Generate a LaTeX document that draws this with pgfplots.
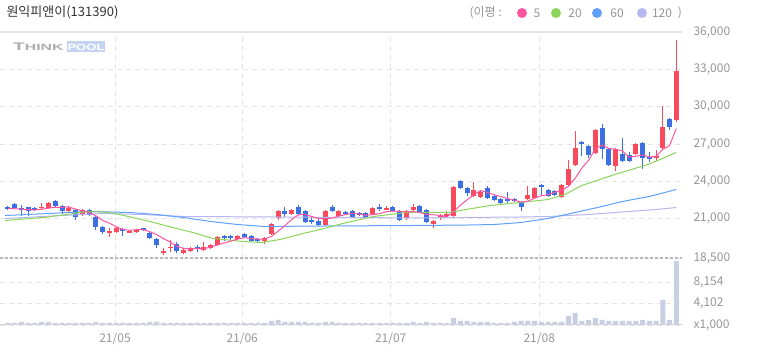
\documentclass[border=0pt]{standalone}
\usepackage{pgfplots}
\pgfplotsset{compat=1.18}
\usepackage{pgfplotstable}
\usepackage{fontspec}
\setmainfont{Noto Sans CJK KR}
\newfontfamily\wmfont{Liberation Sans}
\definecolor{cred}{RGB}{250,74,92}
\definecolor{cblue}{RGB}{60,110,228}
\definecolor{maa}{RGB}{255,85,160}
\definecolor{mab}{RGB}{140,212,90}
\definecolor{mac}{RGB}{95,160,250}
\definecolor{mad}{RGB}{182,182,240}
\definecolor{volc}{RGB}{200,206,228}
\definecolor{gridc}{RGB}{228,228,228}
\definecolor{labc}{RGB}{150,150,150}
\definecolor{poolc}{RGB}{196,212,240}
\definecolor{basec}{RGB}{205,210,222}

\pgfplotstableread{
i o h l c v
0 21970 22050 21650 21730 2
1 22210 22290 21730 21810 2
2 21810 22130 21170 21730 3
3 21890 21970 21170 21570 2
4 21810 21900 21570 21650 2
5 21810 22290 21730 21970 3
6 21810 22370 21730 22290 3
7 22450 22530 21970 22050 2
8 22050 22130 21330 21570 2
9 21570 22050 21490 21810 2
10 21650 21730 20920 21090 2
11 21250 21730 21170 21650 2
12 21650 21730 21170 21250 2
13 21090 21170 20120 20360 3
14 20360 20440 19720 19880 2
15 19800 20280 19480 20040 2
16 19880 20360 19800 20280 2
17 20200 20280 19560 20040 2
18 19880 20120 19800 20040 2
19 19880 20200 19800 20120 2
20 20200 20280 20040 20120 2
21 19800 19880 19320 19400 3
22 19320 19400 18670 18910 3
23 18270 18670 18110 18430 2
24 18600 19240 18350 18750 2
25 18990 19080 18270 18400 2
26 18270 18590 18190 18510 2
27 18430 18750 18350 18670 2
28 18710 18910 18350 18630 2
29 18510 19080 18430 18750 2
30 18670 18990 18590 18910 2
31 18910 19560 18830 19480 2
32 19560 19640 19160 19400 2
33 19560 19640 19240 19400 2
34 19320 19640 19240 19560 2
35 19720 19800 19400 19480 2
36 19560 19640 19080 19160 2
37 19320 19400 19080 19160 2
38 19160 19480 18990 19400 2
39 19720 20680 19640 20600 4
40 21010 21650 20920 21570 5
41 21570 21890 21090 21330 3
42 21330 21730 21250 21650 3
43 21890 22130 21250 21330 3
44 21570 21650 20680 20760 3
45 20920 21090 20600 20760 2
46 20840 21010 20440 20520 2
47 20520 21650 20440 21570 3
48 21890 22130 21490 21570 3
49 21170 21650 21090 21570 2
50 21490 21570 21250 21330 2
51 21570 21650 21010 21090 2
52 21410 21490 21170 21250 2
53 21410 21490 21010 21090 2
54 21330 21890 21250 21810 2
55 21890 22210 21570 21730 2
56 21730 22050 21650 21850 2
57 21970 22050 21490 21570 2
58 21570 21650 20840 20920 2
59 21010 21650 20920 21570 2
60 21650 22210 21490 21890 3
61 22050 22130 21410 21490 2
62 21650 21730 20680 20760 3
63 20600 20920 20280 20840 2
64 21090 21400 20920 21250 2
65 21170 21570 21090 21330 2
66 21170 23580 21090 23500 7
67 23980 24140 23340 23420 4
68 23420 23500 22850 23020 4
69 22850 23900 22770 23260 3
70 22770 23180 22690 23100 3
71 23420 23580 22610 22690 3
72 22850 22930 22450 22530 2
73 22610 22690 22210 22290 2
74 22610 23100 22290 22450 2
75 22610 22690 22370 22450 3
76 22370 22450 21570 21890 4
77 22610 23580 22530 22930 4
78 22690 23500 22610 23420 4
79 23660 23740 22930 23500 3
80 23260 23340 22770 22850 3
81 23180 23260 22850 22930 3
82 22770 23740 22690 23660 3
83 23660 25670 23580 24950 9
84 25270 28000 25190 26710 12
85 27120 27200 25990 26960 4
86 26800 26880 25830 26150 5
87 26310 28240 26230 28160 7
88 28320 28640 25750 26630 5
89 26630 26710 25190 25270 4
90 25190 26710 24790 26630 4
91 26230 27440 25510 25590 4
92 26150 26390 25510 25590 4
93 26230 27040 26150 26960 4
94 27040 27120 24950 25830 5
95 25910 26390 25510 25750 4
96 25910 26550 25590 26000 4
97 26710 30010 26630 28400 25
98 28970 29050 28160 28400 5
99 28890 35320 28800 32830 64
}\candles

\pgfplotstableread{
i v
0 21800
1 21790
2 21760
3 21720
4 21698
5 21746
6 21842
7 21906
8 21906
9 21938
10 21762
11 21634
12 21474
13 21232
14 20846
15 20636
16 20362
17 20120
18 20056
19 20104
20 20120
21 19944
22 19718
23 19396
24 19122
25 18778
26 18600
27 18552
28 18592
29 18592
30 18694
31 18888
32 19034
33 19188
34 19350
35 19464
36 19400
37 19352
38 19352
39 19560
40 19978
41 20412
42 20910
43 21296
44 21328
45 21166
46 21004
47 20988
48 21036
49 21198
50 21312
51 21426
52 21362
53 21266
54 21314
55 21394
56 21546
57 21610
58 21576
59 21528
60 21560
61 21488
62 21326
63 21310
64 21246
65 21134
66 21536
67 22068
68 22504
69 22906
70 23260
71 23098
72 22920
73 22774
74 22612
75 22482
76 22322
77 22402
78 22628
79 22838
80 22918
81 23126
82 23272
83 23578
84 24220
85 25042
86 25686
87 26586
88 26922
89 26634
90 26568
91 26456
92 25942
93 26008
94 26120
95 25944
96 26002
97 26564
98 26858
99 28234
}\mafive

\pgfplotstableread{
i v
-0.44 20844
5.19 21086
8.74 21327
11.7 21568
15.1 21488
18.5 21086
21.0 20764
24.4 20281
27.4 19879
30.4 19397
34.8 19156
37.6 19075
40.3 19317
43.7 19799
46.2 20121
49.6 20603
54.1 21166
59.1 21488
63.0 21488
65.5 21488
67.0 21648
71.4 22050
75.9 22292
80.0 22533
82.5 22935
85.0 23659
89.9 24543
94.8 25347
97.3 25910
99.0 26312
}\matwenty

\pgfplotstableread{
i v
-0.44 21247
6 21407
12 21568
18 21488
22 21327
26 21086
30 20764
34 20523
38 20362
46 20400
60 20442
68 20480
72 20523
76 20683
80 21006
84 21488
88 21970
91 22372
95 22774
99 23337
}\masixty

\pgfplotstableread{
i v
-0.44 21005
8 21247
14 21407
20 21327
26 21166
40 21126
60 21050
76 21126
80 21166
86 21327
92 21568
96 21729
99 21890
}\mahundred

\begin{document}
\begin{tikzpicture}
\path[use as bounding box] (0pt,0pt) rectangle (758pt,355pt);
% title
\node[anchor=west, text=black!80, font=\fontsize{13}{15}\selectfont] at (3pt,343pt) {원익피앤이(131390)};
% legend
\node[anchor=west, text=labc, font=\fontsize{12}{14}\selectfont] at (466pt,342pt) {(이평 :};
\fill[maa] (522pt,342pt) circle (5pt);
\node[text=labc, font=\fontsize{12}{14}\selectfont] at (537pt,342pt) {5};
\fill[mab] (556pt,342pt) circle (5pt);
\node[text=labc, font=\fontsize{12}{14}\selectfont] at (575pt,342pt) {20};
\fill[mac] (597pt,342pt) circle (5pt);
\node[text=labc, font=\fontsize{12}{14}\selectfont] at (617pt,342pt) {60};
\fill[mad] (642pt,342pt) circle (5pt);
\node[text=labc, font=\fontsize{12}{14}\selectfont] at (662pt,342pt) {120};
\node[text=labc, font=\fontsize{12}{14}\selectfont] at (680pt,342pt) {)};
% watermark
\node[anchor=west, inner sep=0pt, text=black!32] at (13pt,308.5pt) {\wmfont\bfseries\scalebox{1.75}[1]{\fontsize{11}{11}\selectfont T\fontsize{9}{9}\selectfont HINK}};
\fill[poolc] (67pt,302.5pt) rectangle (105pt,313.5pt);
\node[inner sep=0pt, text=white] at (86pt,308pt) {\wmfont\bfseries\scalebox{1.45}[1]{\fontsize{9}{9}\selectfont POOL}};

\begin{axis}[
  at={(0pt,97pt)}, anchor=south west, scale only axis,
  width=682pt, height=226pt,
  xmin=-1.185, xmax=99.85, ymin=17830, ymax=36000,
  axis line style={draw=none},
  xtick={15.85,34.7,56.7,78.7}, xticklabels={},
  ytick={21000,24000,27000,30000,33000,36000},
  xmajorgrids, ymajorgrids,
  grid style={gridc, dash pattern=on 5pt off 4pt, line width=0.8pt},
  major tick length=0pt,
  yticklabel pos=right,
  yticklabel style={anchor=west, text=labc, font=\fontsize{12}{14}\selectfont, xshift=8pt},
  /pgf/number format/1000 sep={,},
  /pgf/number format/assume math mode=true,
  scaled y ticks=false,
  clip=true,
]
\draw[gridc, line width=1.3pt] (rel axis cs:0,1) -- (rel axis cs:1,1);
% wicks
\addplot[draw=none, mark=none, forget plot, x filter/.expression={\thisrow{c}>=\thisrow{o} ? x : nan},
  error bars/.cd, y dir=both, y explicit, error mark=none, error bar style={draw=cred, line width=1pt}]
  table[x=i, y expr={(\thisrow{h}+\thisrow{l})/2}, y error expr={(\thisrow{h}-\thisrow{l})/2}] {\candles};
\addplot[draw=none, mark=none, forget plot, x filter/.expression={\thisrow{c}<\thisrow{o} ? x : nan},
  error bars/.cd, y dir=both, y explicit, error mark=none, error bar style={draw=cblue, line width=1pt}]
  table[x=i, y expr={(\thisrow{h}+\thisrow{l})/2}, y error expr={(\thisrow{h}-\thisrow{l})/2}] {\candles};
% bodies
\addplot[draw=none, mark=none, forget plot, x filter/.expression={\thisrow{c}>=\thisrow{o} ? x : nan},
  error bars/.cd, y dir=both, y explicit, error mark=none, error bar style={draw=cred, line width=5pt}]
  table[x=i, y expr={(\thisrow{o}+\thisrow{c})/2}, y error expr={max(abs(\thisrow{c}-\thisrow{o})/2,45)}] {\candles};
\addplot[draw=none, mark=none, forget plot, x filter/.expression={\thisrow{c}<\thisrow{o} ? x : nan},
  error bars/.cd, y dir=both, y explicit, error mark=none, error bar style={draw=cblue, line width=5pt}]
  table[x=i, y expr={(\thisrow{o}+\thisrow{c})/2}, y error expr={max(abs(\thisrow{c}-\thisrow{o})/2,45)}] {\candles};
% moving averages
\addplot[mad, line width=1pt, mark=none] table[x=i, y=v] {\mahundred};
\addplot[mac, line width=1pt, mark=none] table[x=i, y=v] {\masixty};
\addplot[mab, line width=1pt, mark=none] table[x=i, y=v] {\matwenty};
\addplot[maa, line width=1pt, mark=none] table[x=i, y=v] {\mafive};
\end{axis}

\begin{axis}[
  at={(0pt,30pt)}, anchor=south west, scale only axis,
  width=682pt, height=67pt,
  xmin=-1.185, xmax=99.85, ymin=0, ymax=67,
  axis line style={draw=none},
  xtick={15.85,34.7,56.7,78.7}, xticklabels={21/05,21/06,21/07,21/08},
  ytick={0,22,43,67}, yticklabels={{x1,000},{4,102},{8,154},{18,500}},
  xmajorgrids, ymajorgrids,
  grid style={gridc, dash pattern=on 5pt off 4pt, line width=0.8pt},
  major tick length=0pt,
  yticklabel pos=right,
  yticklabel style={anchor=west, text=labc, font=\fontsize{12}{14}\selectfont, xshift=8pt},
  xticklabel style={text=labc, font=\fontsize{12}{14}\selectfont, yshift=-4pt},
]
\addplot[ybar, bar width=5pt, fill=volc, draw=none] table[x=i, y=v] {\candles};
\draw[basec, line width=1pt] (rel axis cs:0,0) -- (rel axis cs:1,0);
\draw[black!28, line width=1.6pt, dash pattern=on 3pt off 2pt] (rel axis cs:0,1) -- (rel axis cs:1,1);
\end{axis}
\end{tikzpicture}
\end{document}
